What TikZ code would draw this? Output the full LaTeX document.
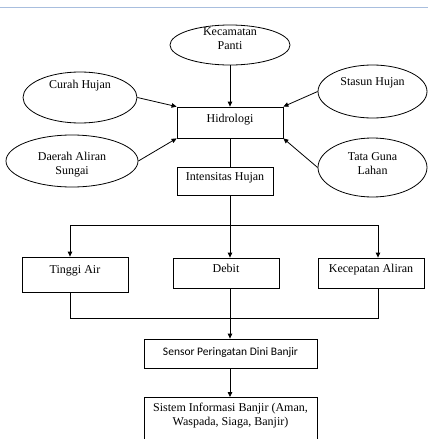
\documentclass[tikz,border=0pt]{standalone}
\usepackage{fontspec}
\setmainfont{Liberation Serif}
\newfontfamily\sensorfont{Carlito}
\usetikzlibrary{positioning,arrows.meta,shapes.geometric}

\definecolor{pageedge}{RGB}{168,190,222}

\begin{document}
\begin{tikzpicture}[
    x=1pt, y=-1pt,
    font=\fontsize{12}{14}\selectfont,
    oval/.style={draw, ellipse, inner sep=0pt, line width=0.8pt},
    ovaltext/.style={align=center, inner sep=0pt},
    box/.style={draw, rectangle, inner sep=2pt, align=center, line width=0.8pt,
                text height=8pt},
    arr/.style={-{Triangle[length=5pt, width=4.5pt]}, line width=0.8pt},
    lin/.style={line width=0.8pt}
  ]

  \useasboundingbox (0,0) rectangle (428,439);
  \clip (0,0) rectangle (428,439);

  % ========= page edge =========
  \draw[pageedge, line width=0.8pt] (0,7) -- (428,7);

  % ========= input ellipses =========
  \node[oval, minimum width=120pt, minimum height=40pt,
        label={[ovaltext, yshift=6pt]center:Kecamatan\\Panti}] (kec) at (230,45) {};
  \node[oval, minimum width=114pt, minimum height=51pt,
        label={[ovaltext, yshift=12pt]center:Curah Hujan}] (curah) at (80,97.5) {};
  \node[oval, minimum width=109pt, minimum height=53pt,
        label={[ovaltext, yshift=9pt]center:Stasun Hujan}] (stasun) at (372.5,91.5) {};
  \node[oval, minimum width=132pt, minimum height=52pt,
        label={[ovaltext, yshift=-4pt]center:Daerah Aliran\\Sungai}] (daerah) at (72,161) {};
  \node[oval, minimum width=109pt, minimum height=59pt,
        label={[ovaltext, yshift=4pt]center:Tata Guna\\Lahan}] (tata) at (372.5,167.5) {};

  % ========= hidrologi + intensitas =========
  \node[box, minimum width=106pt, minimum height=31pt, text depth=9pt] (hidro) at (230,122.5) {Hidrologi};
  \node[box, minimum width=96pt, minimum height=28pt, text depth=10pt] (inten) at (225,181) {Intensitas Hujan};

  \draw[arr] (kec.south) -- (hidro.north);
  \draw[arr] (curah.east) -- (hidro.north west);
  \draw[arr] (stasun.west) -- (hidro.north east);
  \draw[arr] (daerah.east) -- (hidro.south west);
  \draw[arr] (tata.west) -- (hidro.south east);
  \draw[lin] (hidro.south) -- (hidro.south |- inten.north);

  % ========= branching to the three parameters =========
  \coordinate (fork) at (230,225);
  \coordinate (forkL) at (70,225);
  \coordinate (forkR) at (378,225);

  \node[box, minimum width=106pt, minimum height=35pt, text depth=11pt] (tinggi) at (75,274.5) {Tinggi Air};
  \node[box, minimum width=106pt, minimum height=30pt, text depth=10pt] (debit) at (226,273) {Debit};
  \node[box, minimum width=106pt, minimum height=30pt, text depth=10pt] (kecep) at (371,273) {Kecepatan Aliran};

  \draw[lin] (fork |- inten.south) -- (fork);
  \draw[arr] (fork) -- (fork |- debit.north);
  \draw[arr] (fork) -- (forkL) -- (forkL |- tinggi.north);
  \draw[arr] (fork) -- (forkR) -- (forkR |- kecep.north);

  % ========= joining into the sensor =========
  \coordinate (joinL) at (70,318);
  \coordinate (joinR) at (378,318);
  \draw[lin] (forkL |- tinggi.south) -- (joinL) -- (joinR) -- (forkR |- kecep.south);

  \node[box, minimum width=173pt, minimum height=29pt, text depth=5pt,
        font=\sensorfont\fontsize{11.5}{13}\selectfont] (sensor) at (230.5,353.5)
    {Sensor Peringatan Dini Banjir};
  \draw[arr] (fork |- debit.south) -- (fork |- sensor.north);

  % ========= information system =========
  \node[box, anchor=north, minimum width=173pt, minimum height=60pt,
        label={[ovaltext, anchor=north, yshift=-6pt]north:Sistem Informasi Banjir (Aman,\\Waspada, Siaga, Banjir)}]
    (sistem) at (230.5,397) {};
  \draw[arr] (fork |- sensor.south) -- (fork |- sistem.north);

\end{tikzpicture}
\end{document}
